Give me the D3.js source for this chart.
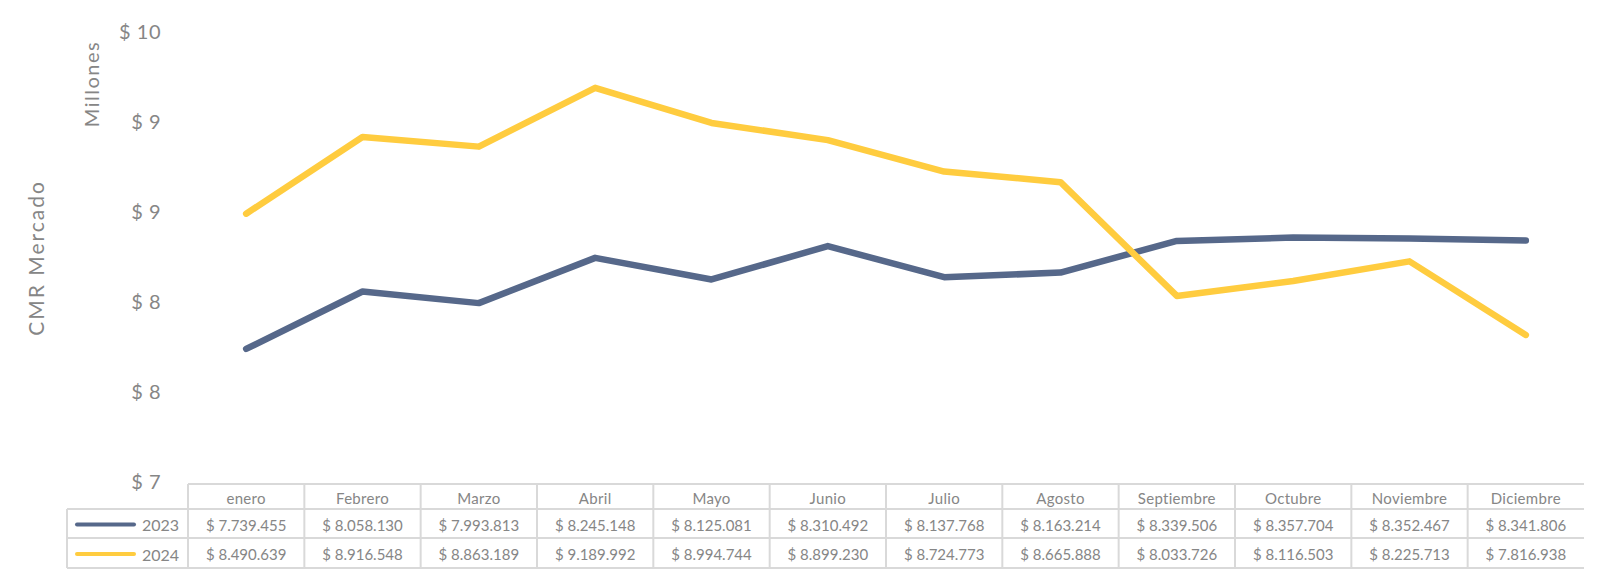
<!DOCTYPE html>
<html lang="es">
<head>
<meta charset="UTF-8" />
<title>CMR Mercado</title>
<style>
  body { margin: 0; background: #fff; }
  svg text { font-family: "Lato", "Open Sans", sans-serif; }
</style>
</head>
<body>
<div id="chart"></div>
<script src="https://d3js.org/d3.v7.min.js"></script>
<script>

var months = ["enero", "Febrero", "Marzo", "Abril", "Mayo", "Junio", "Julio",
              "Agosto", "Septiembre", "Octubre", "Noviembre", "Diciembre"];
var years = ["2023", "2024"];
var values2023 = [7739455, 8058130, 7993813, 8245148, 8125081, 8310492,
                  8137768, 8163214, 8339506, 8357704, 8352467, 8341806];
var values2024 = [8490639, 8916548, 8863189, 9189992, 8994744, 8899230,
                  8724773, 8665888, 8033726, 8116503, 8225713, 7816938];
var yTicks = [7, 7.5, 8, 8.5, 9, 9.5];
var colors = ["#56688a", "#ffcc3f"];

var w = 1600;
var h = 578;

var series = [values2023, values2024];

var locale = d3.formatLocale({ decimal: ",", thousands: ".", grouping: [3], currency: ["$ ", ""] });
var fmtMoney = function(v) { return "$ " + locale.format(",")(v); };

var svg = d3.select("#chart").append("svg")
            .attr("width", w)
            .attr("height", h);

var x = d3.scaleBand()
          .domain(months)
          .range([188, 1584]);

var y = d3.scaleLinear()
          .domain([7, 9.5])
          .range([482, 32]);

// y axis labels
var yAxis = d3.axisLeft(y)
              .tickValues(yTicks)
              .tickSize(0)
              .tickPadding(0)
              .tickFormat(function(d) { return "$ " + d3.format(".0f")(d); });

svg.append("g")
   .attr("transform", "translate(161,0)")
   .call(yAxis)
   .call(function(g) { g.select(".domain").remove(); })
   .selectAll("text")
   .attr("fill", "#868686")
   .style("font-size", "20px")
   .style("letter-spacing", "0.5px")
   .style("font-family", "Lato, sans-serif");

svg.append("text")
   .attr("transform", "translate(35,258) rotate(-90)")
   .attr("text-anchor", "middle")
   .attr("dominant-baseline", "central")
   .attr("fill", "#868686")
   .style("font-size", "21px")
   .style("letter-spacing", "2px")
   .text("CMR Mercado");

svg.append("text")
   .attr("transform", "translate(91,84) rotate(-90)")
   .attr("text-anchor", "middle")
   .attr("dominant-baseline", "central")
   .attr("fill", "#868686")
   .style("font-size", "20px")
   .style("letter-spacing", "1.5px")
   .text("Millones");

// lines
var line = d3.line()
             .x(function(d, i) { return x(months[i]) + x.bandwidth() / 2; })
             .y(function(d) { return y(d / 1e6); });

svg.selectAll("path.serie")
   .data(series)
   .enter()
   .append("path")
   .attr("class", "serie")
   .attr("d", line)
   .attr("fill", "none")
   .attr("stroke", function(d, i) { return colors[i]; })
   .attr("stroke-width", 6.5)
   .attr("stroke-linecap", "round")
   .attr("stroke-linejoin", "round");

// data table
var rowTop = [484, 509, 538, 568];
var legendLeft = 67;
var tableLeft = x.range()[0];
var tableRight = x.range()[1];
var grid = svg.append("g")
              .attr("stroke", "#d9d9d9")
              .attr("stroke-width", 2);

grid.append("line")
    .attr("x1", tableLeft).attr("x2", tableRight)
    .attr("y1", rowTop[0]).attr("y2", rowTop[0]);
rowTop.slice(1).forEach(function(yy) {
  grid.append("line")
      .attr("x1", legendLeft).attr("x2", tableRight)
      .attr("y1", yy).attr("y2", yy);
});
grid.append("line")
    .attr("x1", legendLeft).attr("x2", legendLeft)
    .attr("y1", rowTop[1]).attr("y2", rowTop[3]);
grid.selectAll("line.col")
    .data(months)
    .enter()
    .append("line")
    .attr("class", "col")
    .attr("x1", function(d) { return x(d); })
    .attr("x2", function(d) { return x(d); })
    .attr("y1", rowTop[0])
    .attr("y2", rowTop[3]);

svg.selectAll("text.month")
   .data(months)
   .enter()
   .append("text")
   .attr("class", "month")
   .attr("x", function(d) { return x(d) + x.bandwidth() / 2; })
   .attr("y", (rowTop[0] + rowTop[1]) / 2 + 1)
   .attr("text-anchor", "middle")
   .attr("dominant-baseline", "central")
   .attr("fill", "#868686")
   .style("font-size", "15px")
   .style("letter-spacing", "0.3px")
   .text(function(d) { return d; });

series.forEach(function(vals, s) {
  var cy = (rowTop[s + 1] + rowTop[s + 2]) / 2 + 1;
  svg.selectAll("text.val" + s)
     .data(vals)
     .enter()
     .append("text")
     .attr("class", "val" + s)
     .attr("x", function(d, i) { return x(months[i]) + x.bandwidth() / 2; })
     .attr("y", cy)
     .attr("text-anchor", "middle")
     .attr("dominant-baseline", "central")
     .attr("fill", "#868686")
     .style("font-size", "15px")
     .text(function(d) { return fmtMoney(d); });

  svg.append("line")
     .attr("x1", 77).attr("x2", 134)
     .attr("y1", cy).attr("y2", cy)
     .attr("stroke", colors[s])
     .attr("stroke-width", 4)
     .attr("stroke-linecap", "round");

  svg.append("text")
     .attr("x", 179)
     .attr("y", cy)
     .attr("text-anchor", "end")
     .attr("dominant-baseline", "central")
     .attr("fill", "#868686")
     .style("font-size", "16px")
     .text(years[s]);
});

</script>
</body>
</html>
